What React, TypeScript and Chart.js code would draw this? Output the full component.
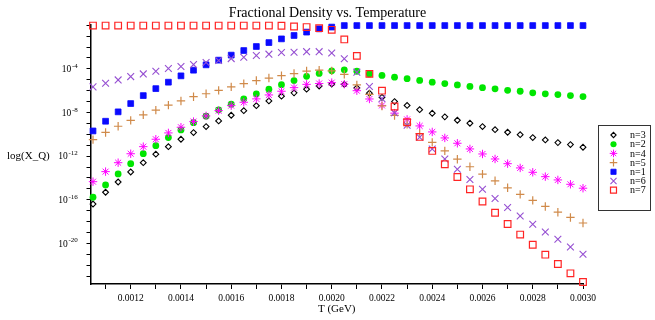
import React, { useEffect, useRef } from 'react';
import { Chart, registerables } from 'chart.js';
import { drawPoint } from 'chart.js/helpers';

Chart.register(...registerables);

const SERIF = "'Liberation Serif', 'Times New Roman', Times, serif";

const chartTitle = 'Fractional Density vs. Temperature';
const xAxisTitle = 'T (GeV)';
const yAxisTitle = 'log(X_Q)';

// temperature (GeV) sample points
const temperatures = [
  0.00105, 0.0011, 0.00115, 0.0012, 0.00125, 0.0013, 0.00135, 0.0014, 0.00145, 0.0015,
  0.00155, 0.0016, 0.00165, 0.0017, 0.00175, 0.0018, 0.00185, 0.0019, 0.00195, 0.002,
  0.00205, 0.0021, 0.00215, 0.0022, 0.00225, 0.0023, 0.00235, 0.0024, 0.00245, 0.0025,
  0.00255, 0.0026, 0.00265, 0.0027, 0.00275, 0.0028, 0.00285, 0.0029, 0.00295, 0.003,
];

// log10 of the fractional density
const log10_n3 = [
  -16.39, -15.31, -14.37, -13.45, -12.6, -11.82, -11.13, -10.45, -9.84, -9.29,
  -8.77, -8.25, -7.83, -7.37, -6.94, -6.5, -6.2, -5.86, -5.57, -5.39,
  -5.42, -5.75, -6.23, -6.61, -7.0, -7.35, -7.74, -8.07, -8.4, -8.71,
  -8.98, -9.29, -9.57, -9.81, -10.03, -10.3, -10.51, -10.76, -10.94, -11.18,
];
const log10_n2 = [
  -15.77, -14.64, -13.63, -12.69, -11.77, -11.04, -10.3, -9.6, -8.93, -8.34,
  -7.76, -7.24, -6.75, -6.29, -5.86, -5.45, -5.07, -4.68, -4.42, -4.18,
  -4.09, -4.22, -4.46, -4.6, -4.76, -4.9, -5.06, -5.22, -5.35, -5.47,
  -5.61, -5.72, -5.83, -5.97, -6.05, -6.2, -6.29, -6.36, -6.45, -6.54,
];
const log10_n4 = [
  -14.34, -13.42, -12.6, -11.78, -11.13, -10.45, -9.87, -9.35, -8.83, -8.31,
  -7.83, -7.37, -7.06, -6.75, -6.39, -6.05, -5.72, -5.42, -5.34, -5.26,
  -5.4, -6.0, -6.76, -7.35, -8.06, -8.63, -9.23, -9.78, -10.33, -10.82,
  -11.34, -11.8, -12.26, -12.69, -13.08, -13.48, -13.88, -14.18, -14.58, -14.94,
];
const log10_n5 = [
  -10.49, -9.83, -9.26, -8.72, -8.22, -7.78, -7.32, -6.94, -6.55, -6.28,
  -5.97, -5.65, -5.35, -5.07, -4.84, -4.62, -4.43, -4.2, -4.12, -4.18,
  -4.5, -5.47, -6.34, -7.4, -8.27, -9.07, -9.94, -10.74, -11.52, -12.28,
  -12.97, -13.65, -14.26, -14.9, -15.5, -16.05, -16.61, -17.14, -17.62, -18.13,
];
const log10_n1 = [
  -9.69, -8.8, -7.94, -7.18, -6.45, -5.81, -5.22, -4.64, -4.12, -3.63,
  -3.2, -2.74, -2.32, -1.95, -1.59, -1.25, -0.94, -0.63, -0.33, -0.17,
  -0.03, -0.03, -0.03, -0.03, -0.03, -0.03, -0.03, -0.03, -0.03, -0.03,
  -0.03, -0.03, -0.03, -0.03, -0.03, -0.03, -0.03, -0.03, -0.03, -0.03,
];
const log10_n6 = [
  -5.65, -5.31, -5.01, -4.71, -4.46, -4.21, -3.97, -3.79, -3.61, -3.42,
  -3.24, -3.06, -2.93, -2.78, -2.65, -2.5, -2.47, -2.42, -2.42, -2.55,
  -3.07, -4.3, -5.62, -6.73, -8.03, -9.17, -10.26, -11.34, -12.26, -13.2,
  -14.14, -15.04, -15.88, -16.71, -17.49, -18.25, -18.95, -19.62, -20.33, -21.0,
];
const log10_n7 = [
  -0.03, -0.03, -0.03, -0.03, -0.03, -0.03, -0.03, -0.03, -0.03, -0.03,
  -0.03, -0.03, -0.03, -0.03, -0.03, -0.05, -0.12, -0.17, -0.27, -0.42,
  -1.3, -2.81, -4.46, -6.0, -7.45, -8.89, -10.24, -11.52, -12.74, -13.91,
  -15.04, -16.16, -17.19, -18.22, -19.19, -20.12, -21.03, -21.89, -22.74, -23.54,
];

const seriesLabels = ['n=3', 'n=2', 'n=4', 'n=5', 'n=1', 'n=6', 'n=7'];
const seriesLogs = [log10_n3, log10_n2, log10_n4, log10_n5, log10_n1, log10_n6, log10_n7];

// axis ticks
const xTicks = [
  0.0011, 0.0012, 0.0013, 0.0014, 0.0015, 0.0016, 0.0017, 0.0018, 0.0019, 0.002,
  0.0021, 0.0022, 0.0023, 0.0024, 0.0025, 0.0026, 0.0027, 0.0028, 0.0029, 0.003,
];
const xTickLabels = [
  '', '0.0012', '', '0.0014', '', '0.0016', '', '0.0018', '', '0.0020',
  '', '0.0022', '', '0.0024', '', '0.0026', '', '0.0028', '', '0.0030',
];
const yTickExponents = [
  -23, -22, -21, -20, -19, -18, -17, -16, -15, -14, -13, -12,
  -11, -10, -9, -8, -7, -6, -5, -4, -3, -2, -1, 0,
];
const yLabelledExponents = [-20, -16, -12, -8, -4];

const xMin = 0.00104;
const xMax = 0.003;
const yMinExp = -23.72;
const yMaxExp = 0.04;

const styles = [
  { pointStyle: 'rectRot', radius: 2.9, color: '#000000', fill: 'rgba(0,0,0,0)', bw: 1.1 },
  { pointStyle: 'circle', radius: 3.4, color: '#00e600', fill: '#00e600', bw: 0 },
  { pointStyle: 'star', radius: 4.2, color: '#ff00ff', fill: 'rgba(0,0,0,0)', bw: 1 },
  { pointStyle: 'cross', radius: 4.2, color: '#d08a4a', fill: 'rgba(0,0,0,0)', bw: 1.2 },
  { pointStyle: 'rect', radius: 4.1, color: '#0a0aff', fill: '#0a0aff', bw: 0.8 },
  { pointStyle: 'crossRot', radius: 4.8, color: '#9650d2', fill: 'rgba(0,0,0,0)', bw: 1.1 },
  { pointStyle: 'rect', radius: 4.7, color: '#ff2424', fill: 'rgba(0,0,0,0)', bw: 1.2 },
];

const overlayPlugin = {
  id: 'overlay',
  afterDraw(chart: any) {
    const ctx = chart.ctx;
    const area = chart.chartArea;
    const yScale = chart.scales.y;
    ctx.save();
    ctx.fillStyle = '#000';

    // y tick labels: 10 with a raised exponent
    ctx.textAlign = 'left';
    ctx.textBaseline = 'alphabetic';
    const labelRight = area.left - 13;
    yLabelledExponents.forEach((e) => {
      const py = yScale.getPixelForValue(Math.pow(10, e));
      const expText = String(e);
      ctx.font = `7px ${SERIF}`;
      const ew = ctx.measureText(expText).width;
      ctx.font = `9.5px ${SERIF}`;
      const bw = ctx.measureText('10').width;
      const x0 = labelRight - ew - bw - 0.5;
      ctx.fillText('10', x0, py + 3.3);
      ctx.font = `7px ${SERIF}`;
      ctx.fillText(expText, x0 + bw + 0.8, py - 1);
    });

    // horizontal y-axis title
    ctx.font = `11px ${SERIF}`;
    ctx.textAlign = 'left';
    ctx.textBaseline = 'middle';
    ctx.fillText(yAxisTitle, 7, (area.top + area.bottom) / 2 + 1.5);

    // legend box
    const bx = area.right + 15.5;
    const by = 125.5;
    const bwid = 52;
    const bh = 85;
    ctx.fillStyle = '#fff';
    ctx.fillRect(bx, by, bwid, bh);
    ctx.strokeStyle = '#333';
    ctx.lineWidth = 1;
    ctx.strokeRect(bx, by, bwid, bh);
    ctx.font = `10px ${SERIF}`;
    const rowH = 9.2;
    chart.data.datasets.forEach((ds: any, i: number) => {
      const st = styles[i];
      const y = by + 9.5 + i * rowH;
      ctx.save();
      ctx.strokeStyle = st.color;
      ctx.fillStyle = st.fill;
      ctx.lineWidth = st.bw;
      drawPoint(ctx, { pointStyle: st.pointStyle, rotation: 0, radius: st.radius * 0.9, borderWidth: st.bw }, bx + 15, y);
      ctx.restore();
      ctx.fillStyle = '#000';
      ctx.textAlign = 'left';
      ctx.textBaseline = 'middle';
      ctx.fillText(ds.label, bx + 31.5, y + 0.5);
    });
    ctx.restore();
  },
};

export default function App() {
  const canvasRef = useRef<HTMLCanvasElement | null>(null);

  useEffect(() => {
    document.body.style.margin = '0';
    const canvas = canvasRef.current;
    if (!canvas) return;

    const datasets = seriesLabels.map((label, i) => ({
      label,
      data: temperatures.map((t, k) => ({ x: t, y: Math.pow(10, seriesLogs[i][k]) })),
      pointStyle: styles[i].pointStyle,
      pointRadius: styles[i].radius,
      pointHoverRadius: styles[i].radius,
      pointBorderWidth: styles[i].bw,
      pointBorderColor: styles[i].color,
      pointBackgroundColor: styles[i].fill,
      borderColor: styles[i].color,
      backgroundColor: styles[i].fill,
      showLine: false,
      clip: false,
      order: seriesLabels.length - 1 - i,
    }));

    const tickFont = { family: SERIF, size: 9.5 };

    const chart = new Chart(canvas, {
      type: 'scatter',
      data: { datasets },
      options: {
        responsive: false,
        animation: false,
        events: [],
        layout: { padding: 0 },
        plugins: {
          legend: { display: false },
          tooltip: { enabled: false },
          title: {
            display: true,
            text: chartTitle,
            color: '#000',
            font: { family: SERIF, size: 14, weight: 'normal' },
            padding: { top: 5, bottom: 3 },
          },
        },
        scales: {
          x: {
            type: 'linear',
            min: xMin,
            max: xMax,
            afterBuildTicks: (scale: any) => {
              scale.ticks = xTicks.map((v) => ({ value: v }));
            },
            afterFit: (scale: any) => {
              scale.height = 36;
            },
            ticks: {
              autoSkip: false,
              maxRotation: 0,
              color: '#000',
              font: tickFont,
              padding: 3.5,
              callback: (value: any, index: number) => xTickLabels[index] ?? '',
            },
            grid: {
              drawOnChartArea: false,
              drawTicks: true,
              tickLength: 5,
              tickColor: '#000',
              tickWidth: 1,
            },
            border: { display: true, color: '#000', width: 1.5 },
            title: {
              display: true,
              text: xAxisTitle,
              color: '#000',
              font: { family: SERIF, size: 11 },
              padding: { top: 0, bottom: 4 },
            },
          },
          y: {
            type: 'logarithmic',
            min: Math.pow(10, yMinExp),
            max: Math.pow(10, yMaxExp),
            afterBuildTicks: (scale: any) => {
              scale.ticks = yTickExponents.map((e) => ({ value: Math.pow(10, e) }));
            },
            afterFit: (scale: any) => {
              scale.width = 90.5;
            },
            ticks: {
              autoSkip: false,
              color: '#000',
              font: tickFont,
              padding: 6,
              callback: () => '',
            },
            grid: {
              drawOnChartArea: false,
              drawTicks: true,
              tickLength: 4,
              tickColor: '#000',
              tickWidth: 1,
            },
            border: { display: true, color: '#000', width: 1.5 },
          },
          y2: {
            type: 'linear',
            position: 'right',
            display: true,
            afterFit: (scale: any) => {
              scale.width = 72;
            },
            ticks: { display: false },
            grid: { display: false, drawTicks: false },
            border: { display: false },
          },
        },
      } as any,
      plugins: [overlayPlugin],
    });

    return () => chart.destroy();
  }, []);

  return (
    <div style={{ width: 655, height: 320 }}>
      <canvas ref={canvasRef} width={655} height={320} style={{ display: 'block' }} />
    </div>
  );
}
